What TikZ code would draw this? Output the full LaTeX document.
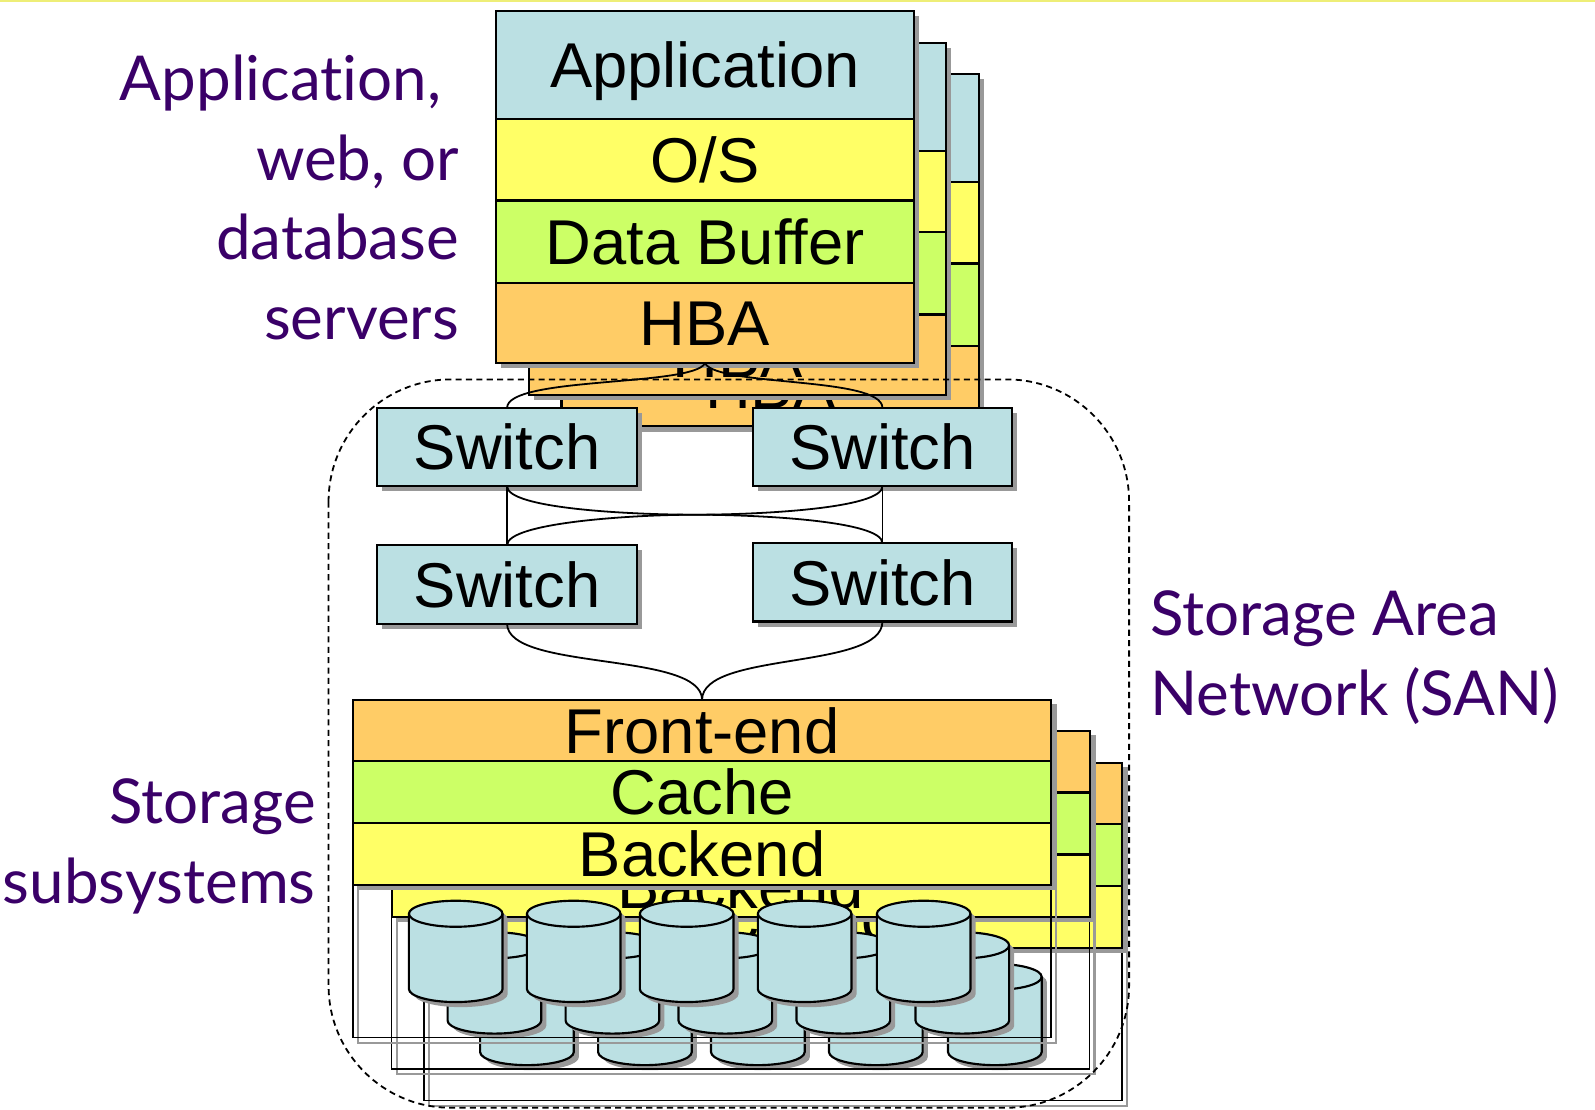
\documentclass[tikz,border=0pt]{standalone}
\usepackage{fontspec}
\setmainfont{Liberation Sans}
\newfontfamily\labelfont[Ligatures=NoCommon]{Lato}
\usepackage{tikz}
\usetikzlibrary{positioning}
\definecolor{SNCyan}{HTML}{BBE0E3}
\definecolor{SNYellow}{HTML}{FFFF66}
\definecolor{SNLime}{HTML}{CCFF66}
\definecolor{SNOrange}{HTML}{FFCC66}
\definecolor{SNShade}{HTML}{999999}
\definecolor{SNPurple}{HTML}{3A0068}
\definecolor{SNRule}{HTML}{EEEE77}
\newcommand{\boxfont}{\fontsize{17.7}{20}\selectfont}
\tikzset{
  shadowed/.style={preaction={draw=none,fill=SNShade,transform canvas={shift={(5,5)}}}},
  layer/.style={draw,line width=0.6pt,inner sep=0pt,outer sep=0pt,
                text height=12.7pt,text depth=0pt,font=\boxfont,shadowed},
  srvlayer/.style={layer,minimum width=4.10cm},
  stolayer/.style={layer,minimum width=6.86cm},
  switchbox/.style={layer,fill=SNCyan,minimum width=2.55cm,minimum height=0.77cm},
  frame/.style={draw,line width=0.4pt,
                preaction={draw=SNShade,line width=0.6pt,transform canvas={shift={(5,5)}}}},
  disk/.style={draw,line width=0.6pt,fill=SNCyan,shadowed},
  wire/.style={line width=0.5pt},
  sanline/.style={line width=0.5pt,dash pattern=on 1.7pt off 1.2pt,rounded corners=1.2cm},
  tag/.style={font=\labelfont\fontsize{17.3}{22.3}\selectfont,text=SNPurple,inner sep=0pt},
}
% one server: name, left, top
\newcommand{\serverstack}[3]{%
  \node[srvlayer,fill=SNCyan,minimum height=1.06cm,anchor=north west] (#1app) at (#2,#3) {Application};
  \node[srvlayer,fill=SNYellow,minimum height=0.80cm,below=0pt of #1app] (#1os) {O/S};
  \node[srvlayer,fill=SNLime,minimum height=0.81cm,below=0pt of #1os] (#1buf) {Data Buffer};
  \node[srvlayer,fill=SNOrange,minimum height=0.79cm,below=0pt of #1buf] (#1hba) {HBA};
}
% one disk: left x, centre y of top ellipse
\newcommand{\disk}[2]{%
  \draw[disk] (#1,#2) -- ++(0,74) arc[start angle=180,end angle=360,x radius=0.46cm,y radius=0.128cm]
    -- ++(0,-74) arc[start angle=0,end angle=180,x radius=0.46cm,y radius=0.128cm] -- cycle;
  \draw[line width=0.6pt] (#1,#2) arc[start angle=180,end angle=360,x radius=0.46cm,y radius=0.128cm];
}
% one storage subsystem: name, left, top
\newcommand{\storagestack}[3]{%
  \draw[frame] (#2,#3) rectangle ++(686,332);
  \node[stolayer,fill=SNOrange,minimum height=0.60cm,anchor=north west] (#1fe) at (#2,#3) {Front-end};
  \node[stolayer,fill=SNLime,minimum height=0.61cm,below=0pt of #1fe] (#1cache) {Cache};
  \node[stolayer,fill=SNYellow,minimum height=0.61cm,below=0pt of #1cache] (#1be) {Backend};
  \foreach \dx in {55,171,282,398,515} {\disk{#2+\dx}{#3+210.3}}
}
\begin{document}
\begin{tikzpicture}[x=0.01cm,y=-0.01cm]
  \useasboundingbox (0,0) rectangle (1568,1091);
  \fill[SNRule] (0,0) rectangle (1568,2);

  % servers, back to front
  \serverstack{s3}{552}{73}
  \serverstack{s2}{520}{42}
  \serverstack{s1}{488}{11}

  % fabric
  \draw[wire] (s1hba.south) .. controls +(-13,23) and +(0,-31) .. (498.5,401) coordinate (hbaL);
  \draw[wire] (s1hba.south) .. controls +(13,23) and +(0,-31) .. (867.5,401) coordinate (hbaR);
  \node[switchbox] (swA) at (498.5,439.5) {Switch};
  \node[switchbox] (swB) at (867.5,439.5) {Switch};
  \node[switchbox] (swC) at (498.5,574.5) {Switch};
  \node[switchbox] (swD) at (867.5,572.5) {Switch};
  \coordinate (cross) at (683,506);
  \draw[wire] (swA.south) -- (swC.north);
  \draw[wire] (swB.south) -- (swD.north);
  \draw[wire] (swA.south) .. controls +(0,22) and +(-63,0) .. (cross)
                          .. controls +(63,0) and +(0,22) .. (swB.south);
  \draw[wire] (swC.north) .. controls +(0,-22) and +(-63,0) .. (cross)
                          .. controls +(63,0) and +(0,-22) .. (swD.north);

  % storage subsystems, back to front
  \storagestack{u3}{417}{750}
  \storagestack{u2}{385}{719}
  \storagestack{u1}{347}{688}
  \draw[wire] (swC.south) .. controls +(0,47) and +(0,-48) .. (u1fe.north);
  \draw[wire] (swD.south) .. controls +(0,48) and +(0,-48) .. (u1fe.north);

  \draw[sanline] (323,373) rectangle (1110,1089);

  \node[tag,align=right,anchor=base east] (srvtag) at (452,334)
    {Application,\hspace*{5pt}\\web, or\hspace*{5pt}\\database\\servers};
  \node[tag,align=left,anchor=base west] (santag) at (1130,703) {Storage Area\\Network (SAN)};
  \node[tag,align=right,anchor=base east] (stotag) at (311,888) {Storage\\subsystems};
\end{tikzpicture}
\end{document}
